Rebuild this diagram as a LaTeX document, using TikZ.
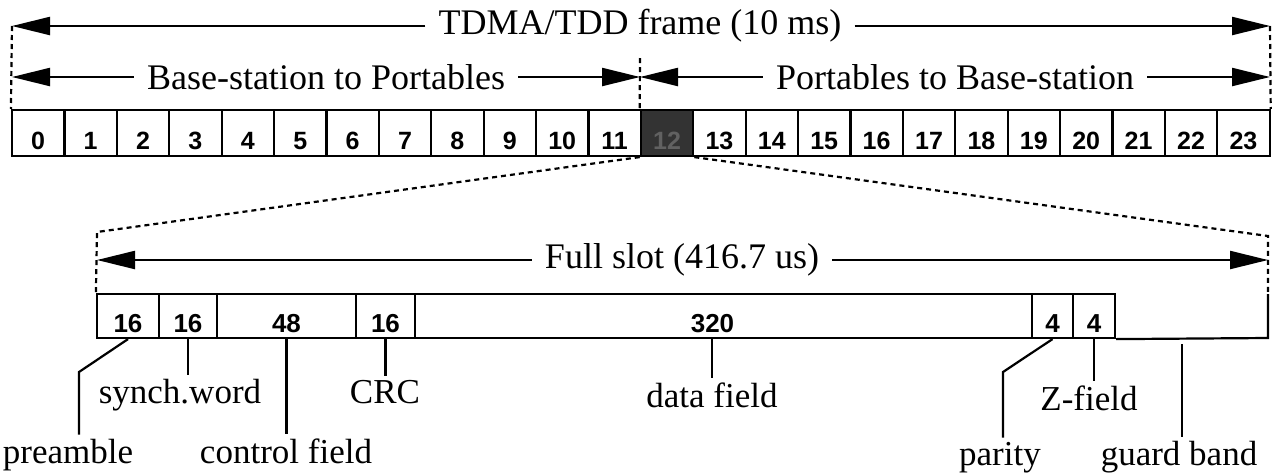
\documentclass[tikz,border=0pt]{standalone}
\usepackage{fontspec}
\setmainfont{Liberation Serif}
\setsansfont{Liberation Sans}
\usetikzlibrary{arrows.meta}
\tikzset{
  slotbox/.style = {draw, minimum width = 52.4pt, minimum height = 46pt, inner xsep = 0pt, inner ysep = 4pt,
    text height = 32pt, text depth = 0pt, font = \sffamily\bfseries\fontsize{25}{30}\selectfont},
  fieldbox/.style = {draw, minimum height = 44pt, inner xsep = 0pt, inner ysep = 6pt,
    text height = 32pt, text depth = 0pt, font = \sffamily\bfseries\fontsize{26}{30}\selectfont},
  span/.style = {font = \fontsize{36}{40}\selectfont, inner xsep = 12pt, inner ysep = 2pt},
  lbl/.style = {font = \fontsize{35}{40}\selectfont, inner sep = 3pt, anchor = base}
}
\begin{document}
\begin{tikzpicture}[x = 1pt, y = -1pt, line width = 2.2pt,
  arr/.style = {-{Triangle[length = 38pt, width = 18pt]}},
  dsh/.style = {dash pattern = on 5pt off 4pt}]
\useasboundingbox (0,0) rectangle (1278,475);
% slots of the frame
\foreach \i in {0,...,11,13,14,...,23}
  \node[slotbox] at ({12+52.4*(\i+0.5)},133) (s\i) {\i};
\node[slotbox, fill = black!80, text = black!62] at ({12+52.4*12.5},133) (s12) {12};
% frame and direction arrows
\node[span] at (640,26) (frame) {TDMA/TDD frame (10 ms)};
\node[span] at (326,77) (down) {Base-station to Portables};
\node[span] at (955,77) (up) {Portables to Base-station};
\coordinate (fl) at (12,26);
\coordinate (fr) at (1270,26);
\coordinate (bl) at (12,77);
\coordinate (bm) at (640,77);
\coordinate (br) at (1270,77);
\coordinate (mt) at (640,58);
\draw[arr] (frame) -- (fl);
\draw[arr] (frame) -- (fr);
\draw[arr] (down) -- (bl);
\draw[arr] (down) -- (bm);
\draw[arr] (up) -- (bm);
\draw[arr] (up) -- (br);
\draw[dsh] (fl) -- (s0.north west);
\draw[dsh] (fr) -- (s23.north east);
\draw[dsh] (mt) -- (s12.north west);
% fields of one slot
\node[fieldbox, minimum width = 62pt] at (128,316) (f1) {16};
\node[fieldbox, minimum width = 58pt] at (188,316) (f2) {16};
\node[fieldbox, minimum width = 139pt] at (286.5,316) (f3) {48};
\node[fieldbox, minimum width = 59pt] at (385.5,316) (f4) {16};
\node[fieldbox, minimum width = 617pt] at (723.5,316) (f5) {\hspace*{-22pt}320};
\node[fieldbox, minimum width = 41pt] at (1052.5,316) (f6) {4};
\node[fieldbox, minimum width = 42pt] at (1094,316) (f7) {4};
\coordinate (gt) at (1268,294);
\coordinate (gb) at (1268,338);
\draw (gt) -- (gb) -- (f7.south east);
% zoom from slot 12
\coordinate (zl) at (97,232);
\coordinate (zr) at (1268,236);
\draw[dsh] (s12.south west) -- (zl) -- (f1.north west);
\draw[dsh] (s12.south east) -- (zr) -- (gt);
\node[span] at (682,260) (full) {Full slot (416.7 us)};
\coordinate (al) at (97,260);
\coordinate (ar) at (1268,260);
\draw[arr] (full) -- (al);
\draw[arr] (full) -- (ar);
% field names
\node[lbl] at (68,463) (lpre) {preamble};
\node[lbl] at (180,403) (lsyn) {synch.word};
\node[lbl] at (286,463) (lctl) {control field};
\node[lbl] at (385,403) (lcrc) {CRC};
\node[lbl] at (712,407) (ldat) {data field};
\node[lbl] at (1000,465) (lpar) {parity};
\node[lbl] at (1089,410) (lzf) {Z-field};
\node[lbl] at (1179,465) (lgb) {guard band};
\coordinate (kpre) at (79,372);
\coordinate (kdat) at (712,338);
\coordinate (kpar) at (1003,372);
\coordinate (kgb) at (1182,344);
\draw (f1.south) -- (kpre) -- (kpre |- lpre.north);
\draw (f2.south) -- (f2.south |- lsyn.north);
\draw (f3.south) -- (f3.south |- lctl.north);
\draw (f4.south) -- (f4.south |- lcrc.north);
\draw (kdat) -- (kdat |- ldat.north);
\draw (f6.south) -- (kpar) -- (kpar |- lpar.north);
\draw (f7.south) -- (f7.south |- lzf.north);
\draw (kgb) -- (kgb |- lgb.north);
\end{tikzpicture}
\end{document}
